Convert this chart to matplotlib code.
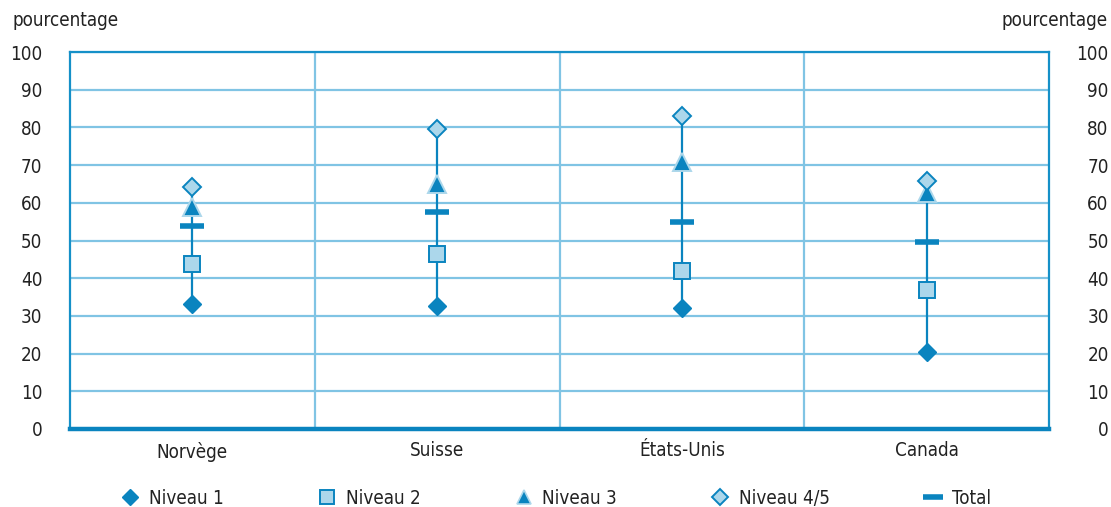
import matplotlib
matplotlib.use("Agg")
import matplotlib.pyplot as plt
from matplotlib.lines import Line2D

plt.rcParams['font.family'] = ['Liberation Sans Narrow', 'DejaVu Sans']
plt.rcParams['font.stretch'] = 'condensed'

categories = ["Norvège", "Suisse", "États-Unis", "Canada"]
niveau1 = [33.1, 32.5, 32.0, 20.3]
niveau2 = [43.7, 46.4, 42.0, 36.8]
niveau3 = [59.0, 65.0, 70.7, 62.7]
niveau45 = [64.3, 79.7, 83.0, 65.9]
total = [53.9, 57.6, 55.0, 49.6]
yticks = [0, 10, 20, 30, 40, 50, 60, 70, 80, 90, 100]

dark = '#0a84bf'
light = '#acd7eb'
grid = '#80c4e4'
fs = 13.5

fig = plt.figure(figsize=(11.11, 5.07), dpi=100)
ax = fig.add_axes([70/1111, 1-429/507, 979/1111, 377/507])
x = list(range(len(categories)))

ax.set_xlim(-0.5, len(categories)-0.5)
ax.set_ylim(0, 100)
ax.set_yticks(yticks)
for yv in yticks[1:]:
    ax.axhline(yv, color=grid, lw=1.6, zorder=1)
for xv in [0.5, 1.5, 2.5]:
    ax.axvline(xv, color=grid, lw=1.6, zorder=1)

for i in x:
    lo = min(niveau1[i], niveau2[i], niveau3[i], niveau45[i])
    hi = max(niveau1[i], niveau2[i], niveau3[i], niveau45[i])
    ax.plot([i, i], [lo, hi], color=dark, lw=1.6, zorder=2)

ax.plot(x, niveau1, ls='none', marker='D', ms=9, mfc=dark, mec=dark, mew=1, zorder=4)
ax.plot(x, niveau2, ls='none', marker='s', ms=11.5, mfc=light, mec=dark, mew=1.4, zorder=4)
ax.plot(x, niveau3, ls='none', marker='^', ms=12.5, mfc=dark, mec=light, mew=1.4, zorder=4)
ax.plot(x, niveau45, ls='none', marker='D', ms=9, mfc=light, mec=dark, mew=1.4, zorder=5)
ax.plot(x, total, ls='none', marker='_', ms=17, mec=dark, mew=4, zorder=4)

for s in ['left', 'top', 'right']:
    ax.spines[s].set_color('#1590c8')
    ax.spines[s].set_linewidth(1.6)
ax.spines['bottom'].set_color(dark)
ax.spines['bottom'].set_linewidth(3.2)
for s in ax.spines.values():
    s.set_zorder(3)

ax.set_xticks(x)
ax.set_xticklabels(categories, fontsize=fs, color='#222222')
ax.tick_params(axis='x', length=0, pad=9)
ax.tick_params(axis='y', length=0, pad=20, labelsize=fs, labelcolor='#222222')

ax2 = ax.twinx()
ax2.set_ylim(0, 100)
ax2.set_yticks(yticks)
ax2.tick_params(axis='y', length=0, pad=43, labelsize=fs, labelcolor='#222222')
for t in ax2.get_yticklabels():
    t.set_horizontalalignment('right')
for s in ax2.spines.values():
    s.set_visible(False)

fig.text(13/1111, 1-20/507, 'pourcentage', fontsize=fs, color='#222222', ha='left', va='center')
fig.text(1108/1111, 1-20/507, 'pourcentage', fontsize=fs, color='#222222', ha='right', va='center')

handles = [
    Line2D([], [], ls='none', marker='D', ms=8, mfc=dark, mec=dark, mew=1),
    Line2D([], [], ls='none', marker='s', ms=10, mfc=light, mec=dark, mew=1.4),
    Line2D([], [], ls='none', marker='^', ms=10, mfc=dark, mec=light, mew=1.2),
    Line2D([], [], ls='none', marker='D', ms=8, mfc=light, mec=dark, mew=1.4),
    Line2D([], [], ls='none', marker='_', ms=14, mec=dark, mew=4),
]
labels = ["Niveau 1", "Niveau 2", "Niveau 3", "Niveau 4/5", "Total"]
leg = fig.legend(handles, labels, ncol=5, loc='center left', bbox_to_anchor=(121/1111, 1-498/507),
                 frameon=False, fontsize=fs, handlelength=1.0, handletextpad=0.5,
                 columnspacing=5.0, borderaxespad=0, borderpad=0)
for t in leg.get_texts():
    t.set_color('#222222')

fig.savefig('out.png', dpi=100)
